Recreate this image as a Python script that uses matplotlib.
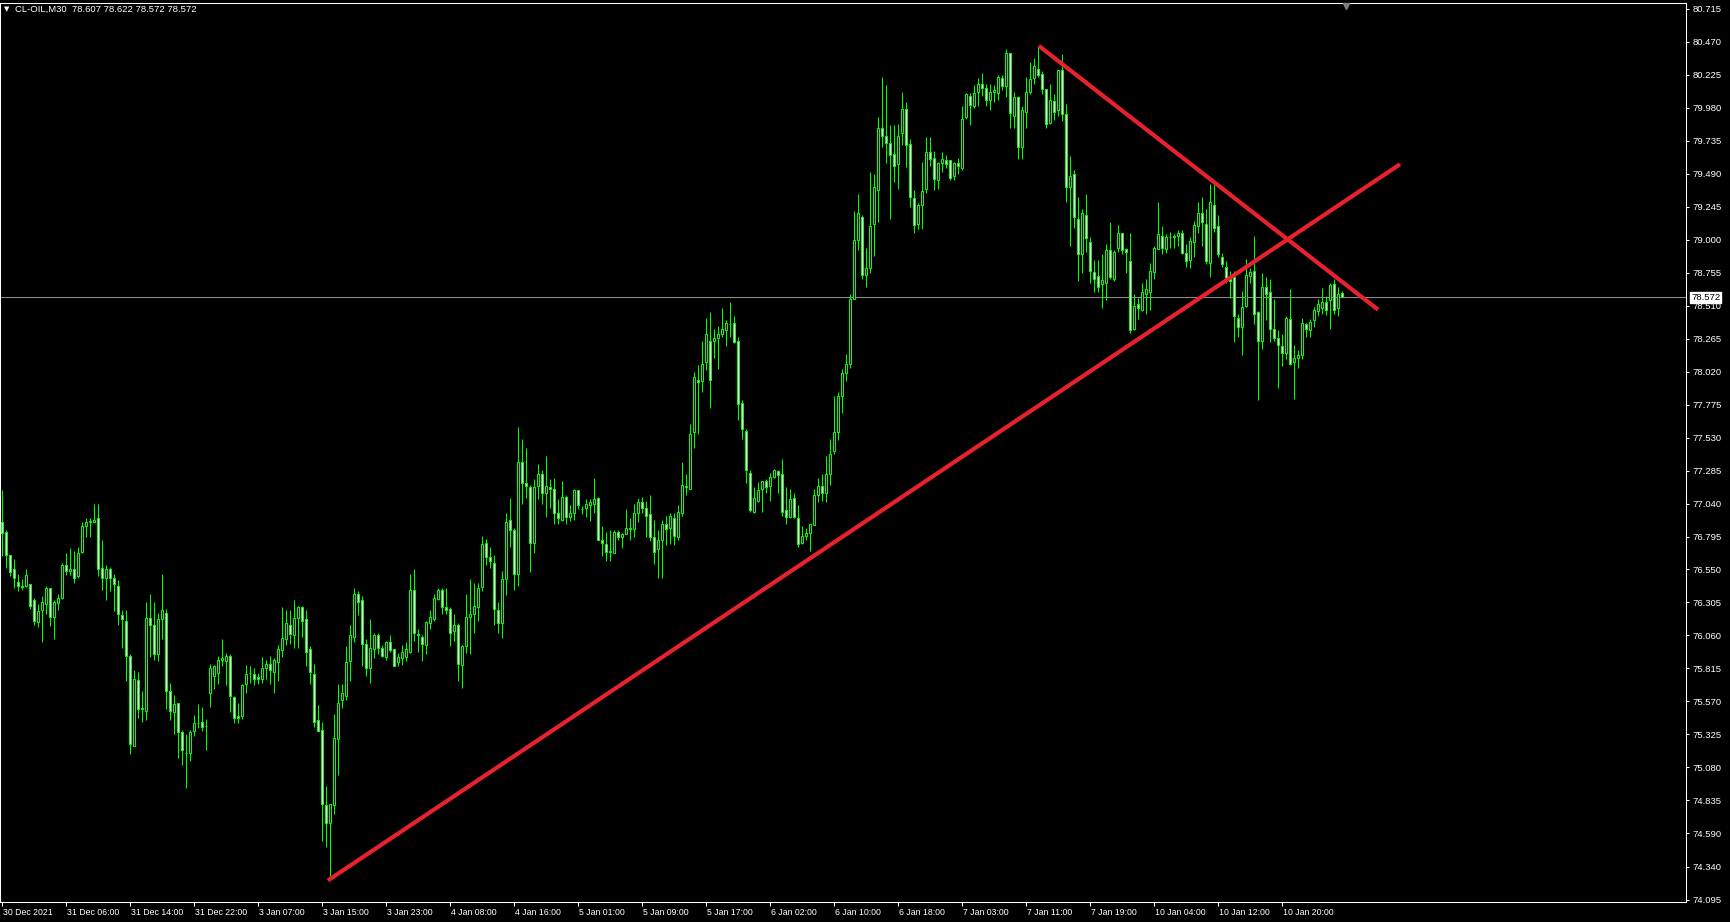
import numpy as np
import matplotlib
matplotlib.use("Agg")
import matplotlib.pyplot as plt
from matplotlib import font_manager
from matplotlib.transforms import blended_transform_factory, ScaledTranslation


SYMBOL = "CL-OIL,M30"
LAST_OHLC = ["78.607", "78.622", "78.572", "78.572"]
LAST_PRICE = 78.572

# M30 bars, one value per bar (index 0 = 30 Dec 2021)
OPEN = [
    76.90, 76.83, 76.66, 76.55, 76.46, 76.43, 76.43, 76.44, 76.32, 76.16, 76.25, 76.29,
    76.41, 76.20, 76.30, 76.34, 76.58, 76.54, 76.55, 76.50, 76.68, 76.87, 76.90, 76.90,
    76.93, 76.56, 76.49, 76.55, 76.49, 76.43, 76.21, 76.17, 75.91, 75.24, 75.73, 75.52,
    75.50, 76.19, 76.14, 75.92, 76.18, 76.23, 75.65, 75.49, 75.56, 75.34, 75.19, 75.19,
    75.35, 75.41, 75.42, 75.39, 75.63, 75.76, 75.78, 75.88, 75.87, 75.91, 75.60, 75.46,
    75.46, 75.70, 75.78, 75.77, 75.75, 75.74, 75.82, 75.85, 75.79, 75.86, 75.95, 76.03,
    76.14, 76.06, 76.19, 76.27, 76.18, 75.96, 75.77, 75.43, 75.36, 74.80, 74.67, 74.80,
    75.29, 75.58, 75.61, 75.87, 76.05, 76.37, 76.32, 76.00, 75.82, 75.96, 76.06, 75.97,
    75.90, 76.01, 75.96, 75.86, 75.89, 75.90, 75.94, 76.40, 76.07, 76.05, 75.99, 76.15,
    76.18, 76.33, 76.40, 76.27, 76.26, 76.09, 76.14, 75.84, 75.98, 76.20, 76.22, 76.27,
    76.42, 76.75, 76.64, 76.60, 76.25, 76.15, 76.48, 76.92, 76.84, 76.52, 77.35, 77.19,
    77.16, 76.75, 77.17, 77.26, 77.12, 77.16, 77.15, 76.97, 76.92, 77.09, 76.94, 76.97,
    77.14, 77.00, 77.01, 77.03, 77.04, 77.08, 76.77, 76.74, 76.68, 76.67, 76.83, 76.79,
    76.81, 76.86, 76.85, 76.97, 77.05, 77.01, 76.96, 76.79, 76.70, 76.77, 76.89, 76.86,
    76.93, 76.79, 76.97, 77.17, 77.15, 77.57, 77.96, 77.95, 78.09, 78.25, 78.25, 78.27,
    78.30, 78.33, 78.37, 78.38, 78.25, 77.79, 77.58, 77.27, 76.98, 77.06, 77.15, 77.21,
    77.17, 77.24, 77.28, 77.26, 76.99, 76.94, 77.08, 76.93, 76.75, 76.80, 76.82, 76.88,
    77.10, 77.17, 77.12, 77.26, 77.43, 77.57, 77.84, 78.01, 78.08, 78.56, 79.00, 79.17,
    78.74, 78.79, 79.12, 79.37, 79.83, 79.77, 79.72, 79.64, 79.56, 79.79, 79.97, 79.71,
    79.31, 79.12, 79.26, 79.38, 79.65, 79.61, 79.44, 79.57, 79.59, 79.59, 79.47, 79.57,
    79.53, 79.91, 80.07, 79.99, 80.10, 80.16, 80.13, 80.04, 80.10, 80.09, 80.20, 80.14,
    80.39, 79.92, 80.06, 79.69, 79.95, 80.10, 80.20, 80.27, 80.23, 80.12, 79.87, 80.03,
    79.96, 80.26, 79.93, 79.39, 79.49, 79.15, 78.89, 79.18, 78.98, 78.76, 78.73, 78.67,
    78.68, 78.92, 78.71, 78.94, 79.05, 78.93, 78.84, 78.34, 78.52, 78.48, 78.60, 78.61,
    78.76, 78.93, 79.03, 78.93, 79.02, 79.02, 79.03, 79.05, 78.90, 78.85, 78.98, 79.10,
    79.20, 79.12, 78.83, 79.26, 79.10, 78.87, 78.80, 78.73, 78.72, 78.42, 78.35, 78.51,
    78.73, 78.77, 78.46, 78.25, 78.65, 78.61, 78.34, 78.27, 78.21, 78.16, 78.41, 78.09,
    78.12, 78.14, 78.37, 78.33, 78.40, 78.47, 78.49, 78.54, 78.55, 78.67, 78.49, 78.607,
]
HIGH = [
    77.14, 76.84, 76.66, 76.63, 76.52, 76.48, 76.55, 76.44, 76.34, 76.29, 76.35, 76.43,
    76.41, 76.32, 76.37, 76.60, 76.67, 76.71, 76.69, 76.72, 76.90, 76.93, 76.93, 77.04,
    77.04, 76.77, 76.58, 76.57, 76.52, 76.47, 76.25, 76.25, 75.92, 75.80, 75.79, 75.65,
    76.31, 76.37, 76.31, 76.23, 76.52, 76.26, 75.71, 75.62, 75.56, 75.36, 75.33, 75.36,
    75.47, 75.55, 75.53, 75.44, 75.85, 75.84, 75.91, 76.03, 75.93, 75.92, 75.61, 75.56,
    75.70, 75.84, 75.83, 75.82, 75.78, 75.90, 75.88, 75.91, 75.89, 75.99, 76.27, 76.25,
    76.25, 76.32, 76.28, 76.28, 76.25, 75.98, 75.85, 75.54, 75.42, 74.94, 74.81, 75.48,
    75.70, 75.70, 75.98, 76.14, 76.41, 76.39, 76.35, 76.03, 76.18, 76.08, 76.08, 75.99,
    76.02, 76.06, 75.96, 75.93, 75.99, 76.01, 76.52, 76.55, 76.11, 76.06, 76.17, 76.25,
    76.37, 76.41, 76.41, 76.41, 76.27, 76.22, 76.15, 75.99, 76.37, 76.48, 76.45, 76.45,
    76.80, 76.78, 76.72, 76.66, 76.31, 76.54, 76.97, 77.08, 76.86, 77.61, 77.52, 77.45,
    77.18, 77.22, 77.33, 77.29, 77.39, 77.22, 77.23, 77.07, 77.21, 77.10, 77.03, 77.15,
    77.14, 77.02, 77.07, 77.07, 77.23, 77.09, 76.87, 76.83, 76.84, 76.84, 76.84, 76.82,
    77.00, 76.93, 77.04, 77.08, 77.09, 77.06, 77.10, 76.92, 76.84, 76.92, 76.95, 76.97,
    76.97, 77.03, 77.35, 77.26, 77.63, 78.02, 78.07, 78.25, 78.42, 78.46, 78.34, 78.36,
    78.49, 78.40, 78.54, 78.43, 78.28, 77.81, 77.59, 77.29, 77.16, 77.20, 77.21, 77.22,
    77.27, 77.30, 77.29, 77.37, 77.16, 77.15, 77.12, 77.03, 76.87, 76.86, 76.89, 77.15,
    77.23, 77.26, 77.39, 77.52, 77.84, 77.87, 78.04, 78.15, 78.60, 79.21, 79.34, 79.18,
    78.94, 79.50, 79.49, 79.91, 80.21, 80.15, 79.85, 79.85, 79.86, 80.10, 80.02, 79.75,
    79.37, 79.27, 79.58, 79.76, 79.76, 79.66, 79.58, 79.65, 79.63, 79.59, 79.58, 79.61,
    79.99, 80.09, 80.09, 80.15, 80.20, 80.24, 80.16, 80.16, 80.15, 80.22, 80.22, 80.42,
    80.39, 80.10, 80.07, 79.99, 80.21, 80.32, 80.35, 80.43, 80.25, 80.12, 80.16, 80.08,
    80.26, 80.38, 80.01, 79.62, 79.52, 79.32, 79.23, 79.34, 79.02, 78.85, 78.85, 78.89,
    78.97, 79.13, 78.92, 79.11, 79.05, 78.94, 79.05, 78.60, 78.57, 78.68, 78.71, 78.83,
    78.95, 79.28, 79.10, 79.04, 79.06, 79.04, 79.07, 79.07, 78.97, 79.02, 79.14, 79.28,
    79.32, 79.23, 79.41, 79.42, 79.18, 78.90, 78.84, 78.77, 78.77, 78.45, 78.62, 78.86,
    78.79, 79.03, 78.47, 78.75, 78.72, 78.71, 78.56, 78.33, 78.30, 78.43, 78.63, 78.22,
    78.18, 78.42, 78.38, 78.41, 78.50, 78.56, 78.64, 78.58, 78.68, 78.71, 78.65, 78.622,
]
LOW = [
    76.65, 76.56, 76.50, 76.41, 76.39, 76.40, 76.42, 76.26, 76.14, 76.12, 76.01, 76.22,
    76.13, 76.03, 76.25, 76.33, 76.51, 76.51, 76.45, 76.49, 76.67, 76.79, 76.79, 76.90,
    76.50, 76.40, 76.32, 76.39, 76.24, 76.14, 75.97, 75.72, 75.18, 75.24, 75.45, 75.42,
    75.43, 75.90, 75.88, 75.87, 76.03, 75.51, 75.43, 75.33, 75.15, 75.10, 74.93, 75.13,
    75.31, 75.37, 75.35, 75.21, 75.53, 75.66, 75.70, 75.83, 75.69, 75.49, 75.41, 75.41,
    75.44, 75.63, 75.71, 75.69, 75.70, 75.71, 75.74, 75.70, 75.63, 75.72, 75.90, 75.99,
    76.00, 75.97, 75.97, 76.05, 75.83, 75.70, 75.38, 75.35, 74.53, 74.49, 74.25, 74.73,
    75.02, 75.52, 75.58, 75.72, 76.01, 76.21, 75.83, 75.76, 75.71, 75.89, 75.92, 75.90,
    75.88, 75.94, 75.83, 75.83, 75.84, 75.87, 75.93, 76.02, 75.94, 75.87, 75.92, 76.11,
    76.17, 76.32, 76.22, 76.22, 75.98, 76.02, 75.72, 75.67, 75.93, 75.92, 76.08, 76.17,
    76.39, 76.58, 76.56, 76.14, 76.08, 76.04, 76.36, 76.72, 76.40, 76.43, 77.04, 77.08,
    76.53, 76.67, 77.07, 77.04, 76.94, 77.01, 76.89, 76.89, 76.91, 76.89, 76.91, 76.92,
    77.00, 76.96, 76.94, 76.91, 76.97, 76.77, 76.65, 76.61, 76.61, 76.67, 76.77, 76.71,
    76.81, 76.77, 76.79, 76.90, 76.97, 76.79, 76.76, 76.59, 76.49, 76.49, 76.73, 76.74,
    76.73, 76.77, 76.95, 77.10, 77.15, 77.45, 77.56, 77.87, 78.03, 77.75, 78.12, 78.04,
    78.28, 78.21, 78.28, 78.23, 77.66, 77.52, 77.19, 76.98, 76.97, 77.05, 76.98, 77.12,
    77.06, 77.23, 77.12, 76.95, 76.89, 76.93, 76.93, 76.72, 76.74, 76.77, 76.69, 76.88,
    77.05, 77.06, 77.05, 77.18, 77.41, 77.51, 77.71, 77.95, 78.05, 78.56, 78.92, 78.71,
    78.65, 78.75, 78.88, 79.13, 79.69, 79.57, 79.15, 79.43, 79.38, 79.70, 79.54, 79.24,
    79.05, 79.08, 79.08, 79.35, 79.55, 79.37, 79.38, 79.50, 79.53, 79.44, 79.44, 79.49,
    79.52, 79.90, 79.85, 79.98, 79.99, 80.07, 79.99, 79.96, 80.02, 80.04, 80.11, 80.06,
    79.83, 79.83, 79.60, 79.60, 79.83, 80.08, 80.16, 80.21, 80.08, 79.83, 79.86, 79.89,
    79.92, 79.88, 79.28, 78.95, 79.09, 78.69, 78.75, 78.91, 78.68, 78.61, 78.61, 78.49,
    78.55, 78.71, 78.69, 78.91, 78.89, 78.75, 78.31, 78.33, 78.41, 78.47, 78.45, 78.48,
    78.71, 78.93, 78.89, 78.90, 78.94, 78.94, 78.95, 78.89, 78.80, 78.79, 78.87, 79.05,
    78.95, 78.82, 78.72, 79.06, 78.87, 78.80, 78.68, 78.57, 78.24, 78.28, 78.14, 78.50,
    78.68, 78.37, 77.81, 78.19, 78.40, 78.24, 78.25, 77.90, 78.06, 78.11, 78.07, 77.82,
    78.05, 78.11, 78.28, 78.28, 78.35, 78.43, 78.45, 78.44, 78.34, 78.45, 78.43, 78.572,
]
CLOSE = [
    76.82, 76.66, 76.53, 76.49, 76.43, 76.42, 76.51, 76.28, 76.17, 76.24, 76.31, 76.41,
    76.20, 76.31, 76.34, 76.58, 76.54, 76.55, 76.49, 76.67, 76.87, 76.90, 76.91, 76.92,
    76.55, 76.49, 76.55, 76.49, 76.44, 76.22, 76.18, 75.91, 75.25, 75.74, 75.51, 75.51,
    76.19, 76.14, 75.92, 76.18, 76.25, 75.65, 75.50, 75.55, 75.34, 75.21, 75.19, 75.34,
    75.41, 75.41, 75.38, 75.39, 75.82, 75.83, 75.88, 75.89, 75.91, 75.61, 75.45, 75.45,
    75.69, 75.77, 75.78, 75.74, 75.74, 75.82, 75.85, 75.80, 75.88, 75.96, 76.04, 76.15,
    76.07, 76.19, 76.27, 76.17, 75.94, 75.79, 75.42, 75.35, 74.81, 74.67, 74.81, 75.30,
    75.56, 75.63, 75.86, 76.06, 76.37, 76.31, 76.00, 75.82, 75.97, 76.06, 75.97, 75.91,
    76.01, 75.95, 75.83, 75.90, 75.94, 75.96, 76.40, 76.08, 76.06, 76.00, 76.16, 76.20,
    76.34, 76.40, 76.27, 76.25, 76.08, 76.14, 75.85, 75.98, 76.20, 76.22, 76.28, 76.41,
    76.74, 76.64, 76.61, 76.26, 76.15, 76.48, 76.90, 76.84, 76.52, 77.35, 77.19, 77.17,
    76.75, 77.16, 77.26, 77.12, 77.17, 77.15, 76.97, 76.93, 77.09, 76.94, 76.97, 77.14,
    77.03, 77.00, 77.04, 77.05, 77.07, 76.77, 76.75, 76.68, 76.69, 76.83, 76.79, 76.81,
    76.86, 76.85, 76.97, 77.05, 77.01, 76.95, 76.79, 76.68, 76.77, 76.89, 76.85, 76.95,
    76.80, 76.98, 77.18, 77.16, 77.56, 77.98, 77.94, 78.08, 78.30, 77.96, 78.27, 78.30,
    78.34, 78.38, 78.37, 78.24, 77.78, 77.59, 77.29, 76.99, 77.08, 77.14, 77.21, 77.16,
    77.24, 77.29, 77.25, 76.98, 76.94, 77.07, 76.94, 76.74, 76.80, 76.82, 76.89, 77.10,
    77.17, 77.12, 77.26, 77.41, 77.57, 77.84, 78.01, 78.08, 78.56, 79.00, 79.20, 78.74,
    78.79, 79.10, 79.39, 79.83, 79.77, 79.72, 79.63, 79.55, 79.77, 79.97, 79.70, 79.32,
    79.11, 79.26, 79.36, 79.65, 79.60, 79.45, 79.57, 79.60, 79.56, 79.46, 79.57, 79.55,
    79.90, 80.08, 80.00, 80.09, 80.16, 80.13, 80.04, 80.10, 80.11, 80.21, 80.14, 80.39,
    79.94, 80.06, 79.69, 79.96, 80.10, 80.19, 80.29, 80.22, 80.12, 79.86, 80.04, 79.95,
    80.26, 79.93, 79.39, 79.47, 79.17, 78.89, 79.20, 79.01, 78.77, 78.71, 78.65, 78.70,
    78.92, 78.72, 78.91, 79.05, 78.92, 78.91, 78.33, 78.51, 78.49, 78.61, 78.63, 78.77,
    78.94, 79.04, 78.94, 79.02, 79.02, 79.03, 79.05, 78.90, 78.84, 78.99, 79.11, 79.20,
    79.13, 78.84, 79.28, 79.09, 78.89, 78.82, 78.71, 78.69, 78.43, 78.35, 78.50, 78.74,
    78.76, 78.45, 78.25, 78.65, 78.60, 78.34, 78.27, 78.22, 78.16, 78.42, 78.08, 78.12,
    78.14, 78.38, 78.34, 78.39, 78.48, 78.52, 78.54, 78.48, 78.66, 78.48, 78.60, 78.572,
]

TIME_LABELS = [
    "30 Dec 2021", "31 Dec 06:00", "31 Dec 14:00", "31 Dec 22:00", "3 Jan 07:00",
    "3 Jan 15:00", "3 Jan 23:00", "4 Jan 08:00", "4 Jan 16:00", "5 Jan 01:00",
    "5 Jan 09:00", "5 Jan 17:00", "6 Jan 02:00", "6 Jan 10:00", "6 Jan 18:00",
    "7 Jan 03:00", "7 Jan 11:00", "7 Jan 19:00", "10 Jan 04:00", "10 Jan 12:00",
    "10 Jan 20:00",
]
BARS_PER_LABEL = 16

PRICE_LABELS = [
    "80.715", "80.470", "80.225", "79.980", "79.735", "79.490", "79.245",
    "79.000", "78.755", "78.510", "78.265", "78.020", "77.775", "77.530",
    "77.285", "77.040", "76.795", "76.550", "76.305", "76.060", "75.815",
    "75.570", "75.325", "75.080", "74.835", "74.590", "74.340", "74.095",
]

# hand-drawn trend lines (bar index, price)
SUPPORT_X = [81.6, 349.6]
SUPPORT_Y = [74.24, 79.56]
RESIST_X = [259.3, 344.1]
RESIST_Y = [80.44, 78.48]

BG = "black"
CANDLE = "#00ff00"
TREND = "#e8212e"

names = {f.name for f in font_manager.fontManager.ttflist}
BASE_FONT = "Liberation Sans" if "Liberation Sans" in names else "DejaVu Sans"
if "Liberation Sans Narrow" in names:
    DATE_FONT, DATE_SIZE = "Liberation Sans Narrow", 7.0
else:
    DATE_FONT, DATE_SIZE = BASE_FONT, 6.3

W, H = 1731, 922
fig = plt.figure(figsize=(W / 100, H / 100), dpi=100, facecolor=BG)
ax = fig.add_axes([0, 20 / H, 1686 / W, 899 / H])
ax.set_facecolor(BG)

o = np.array(OPEN)
h = np.array(HIGH)
l = np.array(LOW)
c = np.array(CLOSE)
idx = np.arange(len(c))

ax.axhline(LAST_PRICE, color="#8c8c8c", lw=0.75, zorder=1)

# candles: wick, then body (bull = black body, bear = white body)
ax.vlines(idx, np.minimum(l, np.minimum(o, c)), np.maximum(h, np.maximum(o, c)),
          color=CANDLE, lw=0.75, zorder=2)
bull = c >= o
bottom = np.minimum(o, c)
height = np.abs(c - o)
ax.bar(idx[bull], height[bull], bottom=bottom[bull], width=0.5,
       facecolor="black", edgecolor=CANDLE, linewidth=0.75, zorder=3)
ax.bar(idx[~bull], height[~bull], bottom=bottom[~bull], width=0.5,
       facecolor="white", edgecolor=CANDLE, linewidth=0.75, zorder=3)

ax.plot(SUPPORT_X, SUPPORT_Y, color=TREND, lw=3.0, solid_capstyle="butt", zorder=4)
ax.plot(RESIST_X, RESIST_Y, color=TREND, lw=3.0, solid_capstyle="butt", zorder=4)

ax.set_xlim(-0.375, 421.1)
ax.set_ylim(74.080, 80.758)

for sp in ax.spines.values():
    sp.set_color("white")
    sp.set_linewidth(0.75)

# price scale on the right
ax.yaxis.tick_right()
ax.set_yticks([float(s) for s in PRICE_LABELS])
ax.set_yticklabels(PRICE_LABELS)
ax.tick_params(axis="y", colors="white", length=2.5, width=0.75, pad=2,
               labelsize=6.8, labelfontfamily=BASE_FONT)

# time scale
ax.set_xticks(np.arange(len(TIME_LABELS)) * BARS_PER_LABEL)
ax.set_xticklabels(TIME_LABELS)
ax.tick_params(axis="x", colors="white", length=3, width=0.75, pad=1,
               labelsize=DATE_SIZE, labelfontfamily=DATE_FONT)
shift = ScaledTranslation(1 / 100, 0, fig.dpi_scale_trans)
for lbl in ax.get_xticklabels():
    lbl.set_horizontalalignment("left")
    lbl.set_transform(lbl.get_transform() + shift)

# last price tag
tag_tr = blended_transform_factory(ax.transAxes, ax.transData) + \
    ScaledTranslation(5 / 100, 0, fig.dpi_scale_trans)
ax.text(1.0, LAST_PRICE, f"{LAST_PRICE:.3f}", transform=tag_tr, ha="left", va="center",
        color="black", fontsize=6.8, family=BASE_FONT, clip_on=False, zorder=6,
        bbox=dict(facecolor="white", edgecolor="white", pad=0.8))

# chart shift marker at top
ax.plot([len(c)], [1 - 3 / 899], marker="v", ms=5, color="#7f7f7f",
        transform=blended_transform_factory(ax.transData, ax.transAxes),
        clip_on=False, zorder=6)

# header
fig.text(4 / W, 1 - 9 / H, "\u25bc", color="white", fontsize=5, family="DejaVu Sans",
         va="center", ha="left")
fig.text(15 / W, 1 - 9 / H, SYMBOL + "  " + " ".join(LAST_OHLC), color="white",
         fontsize=6.8, family=BASE_FONT, va="center", ha="left")

fig.savefig("out.png", dpi=100, facecolor=BG)
